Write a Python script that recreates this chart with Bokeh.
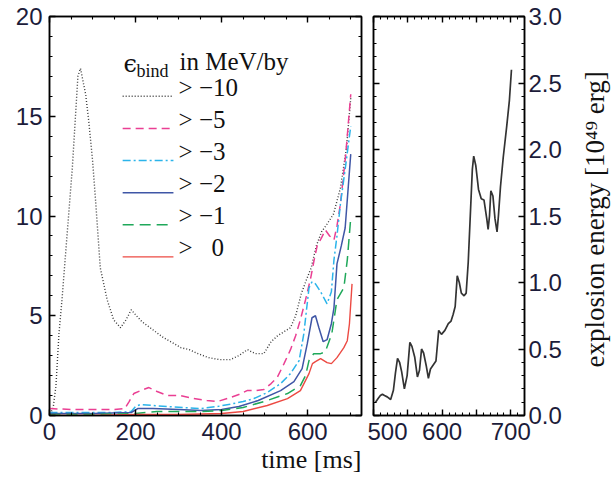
import math
from bokeh.plotting import figure
from bokeh.models import Range1d, LinearAxis, FixedTicker
from bokeh.layouts import row
from bokeh.embed import file_html
from bokeh.resources import INLINE
from bokeh.core.properties import value

# ---------------- data: left panel (unbound mass fraction curves) ----------------
t_m10 = [0, 8, 15, 22, 29, 41, 53, 66, 72, 84, 91, 100, 107, 118, 134, 149, 165, 178, 190, 202,
         215, 240, 265, 290, 305, 325, 345, 370, 395, 420, 440, 460, 478, 498, 515, 530, 545, 560, 572, 585,
         597, 608, 620, 632, 645, 660, 676, 690, 700]
v_m10 = [0.1, 0.3, 1.5, 4.1, 5.8, 9.1, 12.4, 17.0, 17.4, 16.1, 14.8, 12.8, 10.8, 7.4, 5.8, 4.8, 4.4, 4.8, 5.3, 5.0,
         4.7, 4.3, 3.9, 3.6, 3.4, 3.3, 3.1, 2.9, 2.8, 2.8, 3.0, 3.3, 3.1, 3.1, 3.7, 4.0, 4.2, 4.4, 5.0, 6.1,
         6.8, 7.4, 8.5, 9.2, 9.6, 10.1, 11.4, 13.4, 15.9]

t_m5 = [0, 50, 100, 150, 175, 185, 196, 212, 231, 250, 274, 304, 335, 366, 390, 413, 440, 459, 480, 498,
        515, 529, 545, 560, 572, 583, 595, 607, 615, 622, 632, 641, 651, 661, 668, 676, 688, 700]
v_m5 = [0.35, 0.3, 0.3, 0.3, 0.35, 0.7, 1.1, 1.25, 1.4, 1.2, 1.0, 1.0, 0.85, 0.75, 0.7, 0.85, 1.05, 1.25, 1.25, 1.3,
        1.6, 1.9, 2.6, 3.3, 4.0, 4.8, 5.8, 6.9, 7.8, 8.5, 8.9, 9.3, 9.0, 8.8, 9.5, 10.6, 13.0, 16.1]

t_m3 = [0, 50, 100, 150, 190, 200, 211, 240, 274, 310, 351, 390, 428, 450, 475, 506, 537, 560, 580, 591,
        603, 610, 618, 630, 645, 655, 661, 668, 676, 688, 700]
v_m3 = [0.15, 0.15, 0.15, 0.15, 0.2, 0.45, 0.55, 0.5, 0.45, 0.4, 0.35, 0.45, 0.6, 0.7, 0.85, 1.15, 1.6, 2.1, 2.75, 4.1,
        6.4, 6.7, 6.6, 6.2, 5.6, 6.2, 7.8, 9.0, 10.6, 12.5, 14.5]

t_m2 = [0, 100, 190, 205, 240, 300, 351, 400, 440, 485, 537, 568, 587, 599, 610, 618, 626, 636, 645, 655,
        661, 668, 678, 687, 700]
v_m2 = [0.1, 0.1, 0.15, 0.35, 0.35, 0.3, 0.25, 0.3, 0.45, 0.75, 1.25, 1.7, 2.35, 3.6, 4.9, 5.0, 4.4, 3.7, 3.8, 4.6,
        5.4, 7.6, 8.5, 9.4, 13.1]

t_m1 = [0, 100, 200, 250, 300, 350, 400, 450, 506, 553, 583, 595, 603, 614, 630, 641, 656, 668, 684, 692, 700]
v_m1 = [0.05, 0.05, 0.1, 0.2, 0.2, 0.2, 0.25, 0.4, 0.75, 1.1, 1.5, 2.0, 2.75, 3.1, 3.1, 3.2, 4.1, 5.8, 6.4, 7.8, 9.9]

t_0 = [0, 100, 200, 300, 400, 450, 506, 553, 583, 603, 611, 618, 630, 645, 655, 668, 684, 692, 697, 703]
v_0 = [0.0, 0.0, 0.05, 0.05, 0.1, 0.2, 0.5, 0.85, 1.25, 2.1, 2.6, 2.7, 2.85, 2.65, 2.6, 2.9, 3.4, 3.75, 4.6, 6.6]

legend_labels = ["> \u221210", "> \u22125", "> \u22123", "> \u22122", "> \u22121", ">\u00a0\u00a0\u00a00"]

# ---------------- data: right panel (explosion energy) ----------------
t_E = [503, 507, 510, 513, 516, 520, 525, 529, 532, 535, 538, 541, 545, 549, 553, 556, 560, 564, 567, 570,
       573, 577, 580, 583, 587, 591, 595, 599, 604, 609, 613, 616, 619, 622, 625, 628, 632, 635, 638, 641,
       644, 646, 649, 653, 657, 661, 665, 667, 669, 671, 674, 677, 680, 682, 685, 689, 694, 698, 701]
E = [0.10, 0.13, 0.15, 0.16, 0.15, 0.14, 0.12, 0.19, 0.32, 0.43, 0.40, 0.33, 0.20, 0.30, 0.55, 0.52, 0.44, 0.29, 0.34, 0.50,
     0.47, 0.37, 0.28, 0.35, 0.38, 0.41, 0.64, 0.61, 0.64, 0.69, 0.71, 0.76, 0.82, 1.05, 1.00, 0.92, 0.90, 0.92, 1.15, 1.50,
     1.85, 1.95, 1.88, 1.70, 1.63, 1.62, 1.48, 1.40, 1.50, 1.69, 1.65, 1.48, 1.38, 1.50, 1.72, 1.94, 2.17, 2.37, 2.60]

left_xticks = [0, 200, 400, 600]
left_yticks = [0, 5, 10, 15, 20]
right_xticks = [500, 550, 600, 650, 700]
right_xlabels = {500: "500", 550: "", 600: "600", 650: "", 700: "700"}
right_yticks = [0.0, 0.5, 1.0, 1.5, 2.0, 2.5, 3.0]

SANS = "Liberation Sans"
SERIF = "Liberation Serif"
TICKCOL = "#1c1c3a"
TXT = "#111111"
TICKFS = "24px"
LEGFS = "25px"


def style_axis(ax, show_labels=True, size=TICKFS, standoff=6):
    ax.major_tick_in = 6
    ax.major_tick_out = 0
    ax.minor_tick_in = 3
    ax.minor_tick_out = 0
    ax.axis_line_color = "black"
    ax.axis_line_width = 1.5
    ax.major_tick_line_color = "black"
    ax.minor_tick_line_color = "black"
    ax.major_tick_line_width = 1.4
    ax.minor_tick_line_width = 1.1
    ax.major_label_text_font = SANS
    ax.major_label_text_color = TICKCOL
    if show_labels:
        ax.major_label_text_font_size = size
        ax.major_label_standoff = standoff
    else:
        ax.major_label_text_font_size = "0px"
        ax.major_label_standoff = 0


# ---------------- left figure ----------------
p1 = figure(width=367, height=479, x_range=Range1d(0, 725), y_range=Range1d(0, 20),
            output_backend="svg", toolbar_location=None, title="time [ms]", title_location="below",
            min_border_left=49, min_border_right=6, min_border_top=16, min_border_bottom=64)
p1.grid.visible = False
p1.outline_line_color = "black"
p1.outline_line_width = 1.5
p1.title.align = "right"
p1.title.text_font = SERIF
p1.title.text_font_size = "26px"
p1.title.text_font_style = "normal"
p1.title.text_color = TXT
p1.title.standoff = 0
p1.title.offset = 0

p1.xaxis.ticker = FixedTicker(ticks=left_xticks, minor_ticks=list(range(0, 726, 50)))
p1.yaxis.ticker = FixedTicker(ticks=left_yticks, minor_ticks=list(range(0, 21, 1)))
style_axis(p1.xaxis[0], True, TICKFS, 7)
style_axis(p1.yaxis[0], True, TICKFS, 7)

ax_r1 = LinearAxis(ticker=FixedTicker(ticks=left_yticks, minor_ticks=list(range(0, 21, 1))))
style_axis(ax_r1, False)
p1.add_layout(ax_r1, "right")
ax_t1 = LinearAxis(ticker=FixedTicker(ticks=left_xticks, minor_ticks=list(range(0, 726, 50))))
style_axis(ax_t1, False)
p1.add_layout(ax_t1, "above")

series = [
    (t_m10, v_m10, "#3a3a3a", "1 2", 1.4),
    (t_m5, v_m5, "#ea3f93", "8 5", 1.5),
    (t_m3, v_m3, "#2bb4ea", "8 3 2 3", 1.5),
    (t_m2, v_m2, "#3f56a6", "solid", 1.5),
    (t_m1, v_m1, "#1fa85a", "11 6", 1.5),
    (t_0, v_0, "#ec4a43", "solid", 1.4),
]
for t, v, col, dash, lw in series:
    p1.line(t, v, line_color=col, line_dash=dash, line_width=lw)

# legend (hand-drawn, to mimic the original layout)
for i, ((t, v, col, dash, lw), lab) in enumerate(zip(series, legend_labels)):
    ty = 16.45 - 1.61 * i
    ly = ty - 0.45
    p1.line([170, 288], [ly, ly], line_color=col, line_dash=dash, line_width=lw)
    p1.text(x=[300], y=[ty], text=[lab], text_font=value(SERIF), text_font_size=LEGFS,
            text_baseline="middle", text_align="left", text_color=TXT)

p1.text(x=[172], y=[17.6], text=["\u03f5"], text_font=value("DejaVu Serif"), text_font_size="24px",
        text_baseline="middle", text_align="left", text_color=TXT)
p1.text(x=[202], y=[17.25], text=["bind"], text_font=value(SERIF), text_font_size="18px",
        text_baseline="middle", text_align="left", text_color=TXT)
p1.text(x=[302], y=[17.72], text=["in MeV/by"], text_font=value(SERIF), text_font_size=LEGFS,
        text_baseline="middle", text_align="left", text_color=TXT)

# ---------------- right figure ----------------
p2 = figure(width=199, height=479, x_range=Range1d(500, 720), y_range=Range1d(0, 3),
            output_backend="svg", toolbar_location=None, y_axis_location="right",
            min_border_left=6, min_border_right=42, min_border_top=16, min_border_bottom=64)
p2.grid.visible = False
p2.outline_line_color = "black"
p2.outline_line_width = 1.5

p2.xaxis.ticker = FixedTicker(ticks=right_xticks, minor_ticks=list(range(500, 721, 10)))
p2.xaxis.major_label_overrides = right_xlabels
p2.yaxis.ticker = FixedTicker(ticks=right_yticks, minor_ticks=[k / 10 for k in range(0, 31)])
p2.yaxis.major_label_overrides = {t: "%.1f" % t for t in right_yticks}
style_axis(p2.xaxis[0], True, TICKFS, 7)
style_axis(p2.yaxis[0], True, TICKFS, 4)

ax_l2 = LinearAxis(ticker=FixedTicker(ticks=right_yticks, minor_ticks=[k / 10 for k in range(0, 31)]))
style_axis(ax_l2, False)
p2.add_layout(ax_l2, "left")
ax_t2 = LinearAxis(ticker=FixedTicker(ticks=right_xticks, minor_ticks=list(range(500, 721, 10))))
style_axis(ax_t2, False)
p2.add_layout(ax_t2, "above")

p2.line(t_E, E, line_color="#333333", line_width=1.7)

# ---------------- strip holding the right-hand axis title (reads bottom to top) ----------------
p3 = figure(width=46, height=479, x_range=Range1d(0, 1), y_range=Range1d(0, 3),
            output_backend="svg", toolbar_location=None,
            min_border_left=44, min_border_right=0, min_border_top=16, min_border_bottom=64)
p3.grid.visible = False
p3.outline_line_color = None
p3.xaxis.visible = False
ya = p3.yaxis[0]
ya.major_tick_in = 0
ya.major_tick_out = 0
ya.minor_tick_in = 0
ya.minor_tick_out = 0
ya.axis_line_color = None
ya.major_tick_line_color = None
ya.minor_tick_line_color = None
ya.major_label_text_font_size = "0px"
ya.major_label_standoff = 0
ya.axis_label = "explosion energy  [10\u2074\u2079 erg]"
ya.axis_label_text_font = SERIF
ya.axis_label_text_font_size = "27px"
ya.axis_label_text_font_style = "normal"
ya.axis_label_text_color = TXT
ya.axis_label_standoff = 1

layout = row(p1, p2, p3)
open("out.html", "w").write(file_html(layout, INLINE))
